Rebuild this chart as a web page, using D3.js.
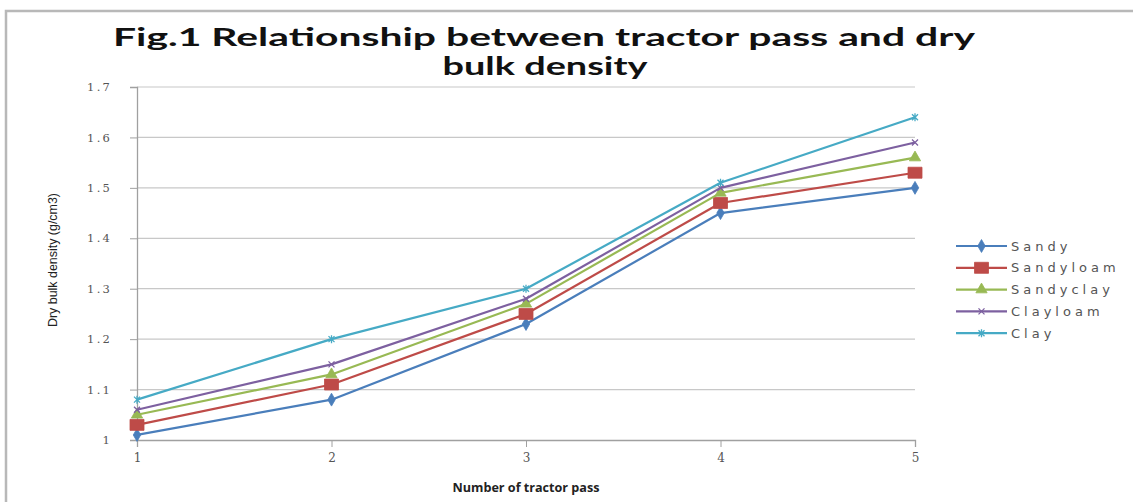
<!DOCTYPE html>
<html>
<head>
<meta charset="utf-8">
<script src="https://cdn.jsdelivr.net/npm/d3@7"></script>
<style>
  html, body { margin: 0; padding: 0; background: #fff; }
  svg { display: block; }
</style>
</head>
<body>
<svg id="chart" width="1133" height="502"></svg>
<script>
// Tractor passes and dry bulk density by soil type
const passes = [1, 2, 3, 4, 5];
const sandy      = [1.01, 1.08, 1.23, 1.45, 1.50];
const sandyloam  = [1.03, 1.11, 1.25, 1.47, 1.53];
const sandyclay  = [1.05, 1.13, 1.27, 1.49, 1.56];
const clayloam   = [1.06, 1.15, 1.28, 1.50, 1.59];
const clay       = [1.08, 1.20, 1.30, 1.51, 1.64];
const seriesNames = ["Sandy", "Sandyloam", "Sandyclay", "Clayloam", "Clay"];
const yTicks = [1, 1.1, 1.2, 1.3, 1.4, 1.5, 1.6, 1.7];

const seriesValues = [sandy, sandyloam, sandyclay, clayloam, clay];
const colors  = ["#4a7ebb", "#be4b48", "#98b954", "#7d60a0", "#46aac5"];
const markers = ["diamond", "square", "triangle", "cross", "star"];

const svg = d3.select("#chart");

// outer frame (top and left edges)
svg.append("path")
  .attr("d", "M6,1133 L6,11 L1133,11")
  .attr("fill", "none").attr("stroke", "#b8b8b8").attr("stroke-width", 2.5);

const x = d3.scaleLinear().domain([1, 5]).range([137, 915]);
const y = d3.scaleLinear().domain([1, 1.7]).range([440, 87]);

// title, two lines
const titleFamily = "Lato, 'Open Sans', sans-serif";
svg.append("text")
  .attr("x", 544).attr("y", 46).attr("text-anchor", "middle")
  .attr("font-family", titleFamily).attr("font-weight", "bold")
  .attr("font-size", 24).attr("fill", "#111")
  .attr("textLength", 862).attr("lengthAdjust", "spacingAndGlyphs")
  .text("Fig.1 Relationship between tractor pass and dry");
svg.append("text")
  .attr("x", 545).attr("y", 75).attr("text-anchor", "middle")
  .attr("font-family", titleFamily).attr("font-weight", "bold")
  .attr("font-size", 24).attr("fill", "#111")
  .attr("textLength", 205).attr("lengthAdjust", "spacingAndGlyphs")
  .text("bulk density");

// horizontal gridlines
svg.append("g")
  .selectAll("line").data(yTicks.slice(1)).join("line")
  .attr("x1", x(1)).attr("x2", x(5))
  .attr("y1", d => y(d)).attr("y2", d => y(d))
  .attr("stroke", "#c8c8c8").attr("stroke-width", 1.2);

// y axis
const yAxis = d3.axisLeft(y).tickValues(yTicks).tickSize(7).tickFormat(d => String(+d.toFixed(1)));
const gy = svg.append("g").attr("transform", `translate(${x(1)},0)`).call(yAxis);
gy.select(".domain").attr("stroke", "#a0a0a0").attr("stroke-width", 1.3);
gy.selectAll(".tick line").attr("stroke", "#a0a0a0");
gy.selectAll(".tick text")
  .attr("x", -25).attr("text-anchor", "end")
  .attr("font-family", "'DejaVu Serif', serif").attr("font-size", 11.5)
  .attr("letter-spacing", 2.2).attr("fill", "#555");

// x axis
const xAxis = d3.axisBottom(x).tickValues(passes).tickSize(7).tickFormat(d3.format("d"));
const gx = svg.append("g").attr("transform", `translate(0,${y(1)})`).call(xAxis);
gx.select(".domain").attr("stroke", "#a0a0a0").attr("stroke-width", 1.3);
gx.selectAll(".tick line").attr("stroke", "#a0a0a0");
gx.selectAll(".tick text")
  .attr("y", 13)
  .attr("font-family", "'DejaVu Serif', serif").attr("font-size", 12).attr("fill", "#555");

// axis titles
svg.append("text")
  .attr("x", 526).attr("y", 492).attr("text-anchor", "middle")
  .attr("font-family", "'Open Sans', sans-serif").attr("font-weight", "bold")
  .attr("font-size", 12).attr("fill", "#222")
  .attr("textLength", 147).attr("lengthAdjust", "spacingAndGlyphs")
  .text("Number of tractor pass");
svg.append("text")
  .attr("transform", "translate(57,260) rotate(-90)")
  .attr("text-anchor", "middle")
  .attr("font-family", "'Liberation Sans Narrow', 'Liberation Sans', sans-serif")
  .attr("font-size", 13.5).attr("fill", "#222")
  .attr("textLength", 134).attr("lengthAdjust", "spacingAndGlyphs")
  .text("Dry bulk  density (g/cm3)");

// marker shapes
function markerPath(kind) {
  switch (kind) {
    case "diamond": return d3.symbol(d3.symbolDiamond, 48)();
    case "square": return "M-7,-5.5 H7 V5.5 H-7 Z";
    case "triangle": return d3.symbol(d3.symbolTriangle, 55)();
    case "cross": return "M-3,-3 L3,3 M-3,3 L3,-3";
    case "star": return "M-3,-3 L3,3 M-3,3 L3,-3 M0,-4 V4";
  }
}
function drawMarker(g, kind, color) {
  const p = g.append("path").attr("d", markerPath(kind));
  if (kind === "cross" || kind === "star") {
    p.attr("fill", "none").attr("stroke", color).attr("stroke-width", 1.3);
  } else {
    p.attr("fill", color).attr("stroke", color).attr("stroke-width", 0.8);
  }
}

const line = d3.line().x((d, i) => x(passes[i])).y(d => y(d));

// series lines and markers
seriesValues.forEach((vals, s) => {
  const g = svg.append("g");
  g.append("path").datum(vals)
    .attr("d", line)
    .attr("fill", "none")
    .attr("stroke", colors[s])
    .attr("stroke-width", 2.2)
    .attr("stroke-linejoin", "round");
  vals.forEach((v, i) => {
    const m = g.append("g").attr("transform", `translate(${x(passes[i])},${y(v)})`);
    drawMarker(m, markers[s], colors[s]);
  });
});

// legend
const legend = svg.append("g");
seriesNames.forEach((name, s) => {
  const ly = 246 + s * 21.8;
  const row = legend.append("g").attr("transform", `translate(0,${ly})`);
  row.append("line").attr("x1", 956).attr("x2", 1007).attr("y1", 0).attr("y2", 0)
    .attr("stroke", colors[s]).attr("stroke-width", 2.2);
  const m = row.append("g").attr("transform", "translate(981.5,0)");
  drawMarker(m, markers[s], colors[s]);
  row.append("text").attr("x", 1011).attr("y", 4.5)
    .attr("font-family", "'DejaVu Sans', sans-serif").attr("font-size", 13)
    .attr("fill", "#555").attr("letter-spacing", 4)
    .text(name);
});
</script>
</body>
</html>
